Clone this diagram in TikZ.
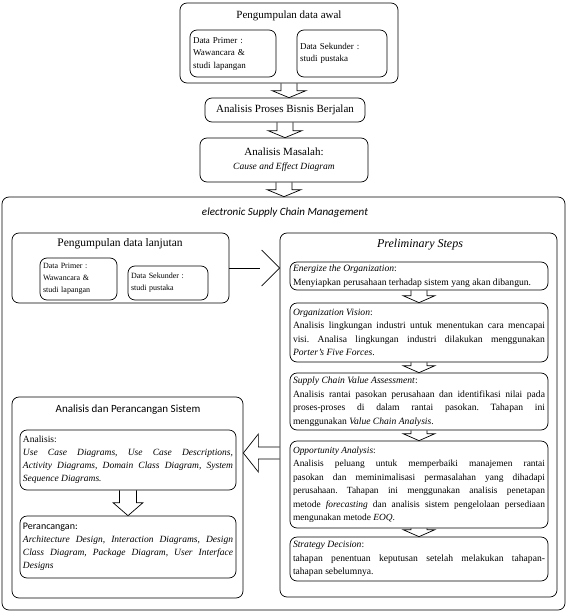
\documentclass[tikz,border=0pt]{standalone}
\usepackage{fontspec}
\setmainfont{Liberation Serif}
\setsansfont{Carlito}
\usetikzlibrary{calc}
\frenchspacing
\hyphenpenalty=10000
\hbadness=10000
\newcommand\varrow[5]{%
\draw[blk] let \p1=(#1.south), \p2=(#2.north) in
 (\x1-#3pt,\y1) -- (\x1-#3pt,\y2+#5pt) -- (\x1-#4pt,\y2+#5pt) -- (\x1,\y2) --
 (\x1+#4pt,\y2+#5pt) -- (\x1+#3pt,\y2+#5pt) -- (\x1+#3pt,\y1);}
\begin{document}
\begin{tikzpicture}[x=1pt,y=-1pt,
 box/.style={draw, rounded corners=7pt, line width=0.7pt, inner sep=0pt},
 tbox/.style={box, inner xsep=3pt, inner ysep=2pt, align=justify, font=\fontsize{9.6}{13.5}\selectfont},
 sbox/.style={box, inner xsep=3pt, inner ysep=2pt, align=left},
 blk/.style={draw, line width=0.7pt, line join=miter},
 ttl/.style={inner sep=0pt, font=\fontsize{11}{13}\selectfont}]
\useasboundingbox (0,0) rectangle (568,613);
% top chain
\node[box, minimum width=218pt, minimum height=80pt] (awal) at (289,43) {};
\node[ttl] (awalT) at (289,16) {Pengumpulan data awal};
\node[sbox, minimum height=47pt, text width=80pt, font=\fontsize{9}{12.5}\selectfont] (prim1) at (233,53.5) {Data Primer :\\ Wawancara \&\\ studi lapangan};
\node[sbox, minimum height=47pt, text width=84pt, font=\fontsize{9}{12.5}\selectfont] (sek1) at (342,53.5) {Data Sekunder :\\ studi pustaka};
\node[box, minimum width=160pt, minimum height=24pt, font=\fontsize{11}{13}\selectfont] (proses) at (285,110) {Analisis Proses Bisnis Berjalan};
\node[box, minimum width=168pt, minimum height=44pt, align=center, font=\fontsize{11}{13}\selectfont] (masalah) at (284,160) {Analisis Masalah:\\[1pt] {\fontsize{9.5}{12}\selectfont\itshape Cause and Effect Diagram}};
% big box
\node[box, minimum width=563pt, minimum height=413pt] (escm) at (283.5,403.5) {};
\node[ttl, font=\sffamily\itshape\fontsize{11}{13}\selectfont] (escmT) at (285,213) {electronic Supply Chain Management};
\varrow{awal}{proses}{8}{17}{7}
\varrow{proses}{masalah}{8}{17}{7}
\varrow{masalah}{escm}{8}{17}{7}
% data lanjutan
\node[box, minimum width=217pt, minimum height=70pt] (lanjut) at (120.5,268) {};
\node[ttl, font=\fontsize{11.5}{13}\selectfont] (lanjutT) at (120,244) {Pengumpulan data lanjutan};
\node[sbox, minimum height=42pt, text width=71pt, font=\fontsize{8}{12}\selectfont] (prim2) at (78.5,279) {Data Primer :\\ Wawancara \&\\ studi lapangan};
\node[sbox, minimum height=34pt, text width=74pt, font=\fontsize{8}{12}\selectfont] (sek2) at (168,283) {Data Sekunder :\\ studi pustaka};
% preliminary steps
\node[box, minimum width=277pt, minimum height=364pt] (prelim) at (418.5,415) {};
\node[ttl, font=\itshape\fontsize{12}{14}\selectfont] (prelimT) at (420,245) {Preliminary Steps};
\node[tbox, minimum height=28pt, text width=252pt] (energ) at (419,276) {\textit{Energize the Organization}:\\ Menyiapkan perusahaan terhadap sistem yang akan dibangun.};
\node[tbox, minimum height=59pt, text width=252pt] (orgv) at (419,332.5) {\textit{Organization Vision}:\\ Analisis lingkungan industri untuk menentukan cara mencapai\linebreak visi. Analisa lingkungan industri dilakukan menggunakan\linebreak \textit{Porter’s Five Forces}.};
\node[tbox, minimum height=57pt, text width=252pt] (scva) at (419,401.5) {\textit{Supply Chain Value Assessment}:\\ Analisis rantai pasokan perusahaan dan identifikasi nilai pada\linebreak proses-proses di dalam rantai pasokan. Tahapan ini\linebreak menggunakan \textit{Value Chain Analysis}.};
\node[tbox, minimum height=87pt, text width=252pt, font=\fontsize{9.4}{13.5}\selectfont] (opp) at (419,484.5) {\textit{Opportunity Analysis}:\\ Analisis peluang untuk memperbaiki manajemen rantai\linebreak pasokan dan meminimalisasi permasalahan yang dihadapi\linebreak perusahaan. Tahapan ini menggunakan analisis penetapan\linebreak {\spaceskip=0.12em plus 0.3em minus 0.05em metode \textit{forecasting} dan analisis sistem pengelolaan persediaan}\linebreak mengunakan metode \textit{EOQ}.};
\node[tbox, minimum height=44pt, text width=252pt] (strat) at (419,559) {\textit{Strategy Decision}:\\ tahapan penentuan keputusan setelah melakukan tahapan-\linebreak tahapan sebelumnya.};
\varrow{energ}{orgv}{8}{16}{7}
\varrow{orgv}{scva}{8}{16}{7}
\varrow{scva}{opp}{8}{16}{7}
\varrow{opp}{strat}{8}{16}{7}
% analisis dan perancangan
\node[box, minimum width=231pt, minimum height=201pt] (adps) at (127.5,497.5) {};
\node[ttl, font=\sffamily\fontsize{11}{13}\selectfont] (adpsT) at (128,410) {Analisis dan Perancangan Sistem};
\node[tbox, minimum height=60pt, text width=210pt, font=\fontsize{9.5}{13}\selectfont] (anal) at (128,460) {Analisis:\\ \textit{Use Case Diagrams, Use Case Descriptions,\linebreak Activity Diagrams, Domain Class Diagram, System\linebreak Sequence Diagrams.}};
\node[tbox, minimum height=62pt, text width=210pt, font=\fontsize{9.5}{13}\selectfont] (peran) at (128,547) {{\sffamily\fontsize{10}{13}\selectfont Perancangan:}\\ \textit{Architecture Design, Interaction Diagrams, Design\linebreak Class Diagram, Package Diagram, User Interface\linebreak Designs}};
\varrow{anal}{peran}{8.5}{15}{13}
% connectors between columns
\draw[blk] (lanjut.east) -- ($(lanjut.east)+(31,0)$);
\draw[blk] let \p1=(prelim.west |- lanjut.east) in (\x1-18pt,\y1+18pt) -- (\p1) -- (\x1-18pt,\y1-18pt);
\coordinate (hy) at (0,453);
\draw[blk] let \p1=(prelim.west), \p2=(adps.east), \p3=(hy) in
 (\x1,\y3+6pt) -- (\x2+15pt,\y3+6pt) -- (\x2+15pt,\y3+19pt) -- (\x2,\y3) --
 (\x2+15pt,\y3-19pt) -- (\x2+15pt,\y3-6pt) -- (\x1,\y3-6pt);
\end{tikzpicture}
\end{document}
